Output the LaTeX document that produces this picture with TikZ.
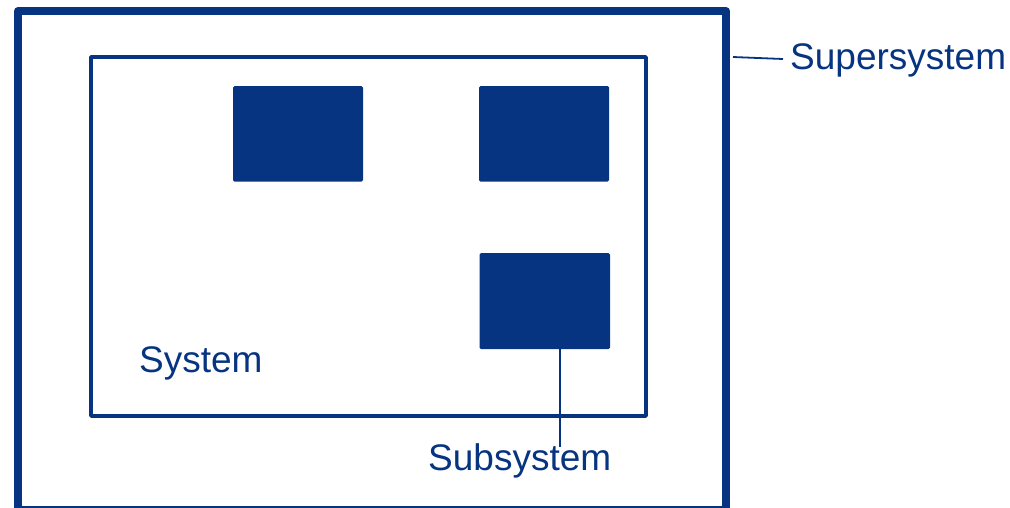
\documentclass[tikz,border=0pt]{standalone}
\usepackage{fontspec}
\setmainfont{Liberation Sans}
\definecolor{sysblue}{RGB}{7,52,128}
\begin{document}
\begin{tikzpicture}[x=1pt,y=-1pt,
  frame/.style={draw=sysblue,line join=round},
  block/.style={fill=sysblue,rounded corners=1.5pt},
  label/.style={text=sysblue,font=\fontsize{37}{40}\selectfont,inner sep=0pt,anchor=base west},
  leader/.style={draw=sysblue,line width=1.8pt}]
  \useasboundingbox (0,0) rectangle (1010,507);
  % supersystem frame (lower edge runs past the page)
  \draw[frame,line width=8pt] (18,11) rectangle (726,510);
  \coordinate (superedge) at (733,57);
  % system frame
  \draw[frame,line width=3.6pt] (91,57) rectangle (646,416);
  % subsystems
  \path[block] (233,86) rectangle (363,181.5);
  \path[block] (479,86) rectangle (609,181.5);
  \path[block] (479.5,253) rectangle (610,349);
  \coordinate (subbottom) at (560,349);
  % labels
  \node[label] (super) at (790,69) {Supersystem};
  \node[label] (sys) at (139,372) {System};
  \node[label] (sub) at (428,470) {Subsystem};
  % leaders
  \coordinate (superend) at (783,59);
  \draw[leader] (superedge) -- (superend);
  \coordinate (subtop) at (560,447);
  \draw[leader] (subbottom) -- (subtop);
\end{tikzpicture}
\end{document}
